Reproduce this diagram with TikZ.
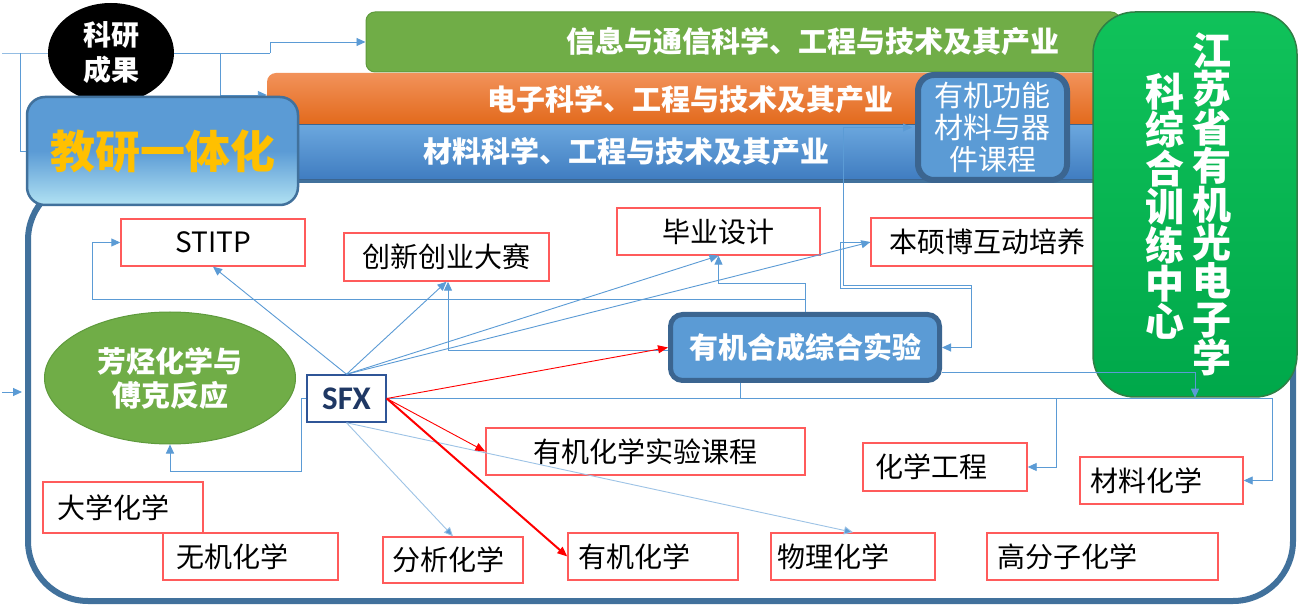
\documentclass[tikz,border=0pt]{standalone}
\usepackage{fontspec}
\newfontfamily\cjk{Noto Sans CJK SC}
\newfontfamily\calib{Carlito}
\usetikzlibrary{arrows.meta,shapes.geometric}
\definecolor{lnblue}{HTML}{5B9BD5}
\definecolor{lnlight}{HTML}{9DC3E6}
\definecolor{boxred}{HTML}{FF5B5B}
\definecolor{framec}{HTML}{41719C}
\definecolor{gbarc}{HTML}{70AD47}
\definecolor{gbard}{HTML}{5E9A3C}
\definecolor{obartop}{HTML}{F2925A}
\definecolor{obarbot}{HTML}{E2691B}
\definecolor{bbartop}{HTML}{6BA7DE}
\definecolor{bbarbot}{HTML}{3F7CC0}
\definecolor{boxblue}{HTML}{5B9BD5}
\definecolor{boxdark}{HTML}{3B6590}
\definecolor{goldc}{HTML}{FFC000}
\definecolor{gboxtop}{HTML}{10C25A}
\definecolor{gboxbot}{HTML}{00A84A}
\definecolor{gboxd}{HTML}{2F7F45}
\definecolor{navyc}{HTML}{1F3864}
\definecolor{sfxd}{HTML}{2F5597}
\begin{document}
\begin{tikzpicture}[x=1pt,y=-1pt,
  redbox/.style={draw=boxred,line width=1.4pt,fill=white,inner xsep=10pt,inner ysep=0pt,
    font=\cjk\fontsize{28}{30}\selectfont,align=left,text=black},
  cbox/.style={redbox,align=center},
  bartext/.style={font=\cjk\bfseries\fontsize{29}{32}\selectfont,text=white,inner sep=0pt},
  ln/.style={draw=lnblue,line width=0.9pt},
  lnl/.style={draw=lnlight,line width=0.9pt},
  conn/.style={ln,-{Triangle[length=9pt,width=8pt]}},
  connl/.style={lnl,-{Triangle[length=9pt,width=8pt,fill=lnblue]}},
  redarr/.style={draw=red,line width=0.9pt,-{Triangle[length=10pt,width=8pt]}},
]
\useasboundingbox (0,0) rectangle (1301,609);
\fill[white] (0,0) rectangle (1301,609);

% outer frame
\node[draw=framec,line width=6pt,rounded corners=60pt,minimum width=1265pt,minimum height=421pt] (outer) at (660.5,390.5) {};

% lines around 科研成果
\coordinate (l0) at (2,53);
\coordinate (l1) at (20,53);
\coordinate (l2) at (220,53);
\coordinate (l3) at (270,53);
\coordinate (l4) at (270,42);
\coordinate (l5) at (220,95);
\coordinate (l6) at (2,392);

% bars
\node[fill=gbarc,draw=gbard,line width=1pt,rounded corners=9pt,minimum width=754pt,minimum height=60pt] (gbar) at (743,42) {};
\node[top color=obartop,bottom color=obarbot,rounded corners=9pt,minimum width=853pt,minimum height=52pt,inner sep=0pt] (obar) at (693.5,99) {};
\node[top color=bbartop,bottom color=bbarbot,draw=boxdark,line width=1pt,minimum width=853pt,minimum height=55pt,inner sep=0pt] (bbar) at (693.5,152.5) {};
\node[bartext] (gbart) at (813,42) {信息与通信科学、工程与技术及其产业};
\node[bartext] (obart) at (690,100) {电子科学、工程与技术及其产业};
\node[bartext] (bbart) at (626.5,152) {材料科学、工程与技术及其产业};

\draw[ln] (l0) -- (l1) -- (l3);
\draw[ln,-{Triangle[length=9pt,width=8pt]}] (l3) -- (l4) -- (gbar.west);
\draw[conn] (l2) -- (l5) -- (l5 -| obar.west);
\draw[conn,shorten >=3pt] (l6) -- (l6 -| outer.west);

% 科研成果
\node[ellipse,fill=black,minimum width=126pt,minimum height=100pt,inner sep=0pt,
  font=\cjk\bfseries\fontsize{28}{35}\selectfont,text=white,align=center] (kycg) at (111,53) {科研\\成果};

% 教研一体化
\node[rounded corners=18pt,draw=framec,line width=2.5pt,top color=boxblue,bottom color=lnlight!80!cyan!60,
  middle color=boxblue,minimum width=271pt,minimum height=108pt,inner sep=0pt,
  font=\cjk\bfseries\fontsize{45}{50}\selectfont,text=goldc] (jyyth) at (162.5,151) {教研一体化};
\draw[ln] (l1) |- (jyyth.west);

% 有机功能材料与器件课程
\node[rounded corners=16pt,fill=boxblue,draw=boxdark,line width=6pt,minimum width=149pt,minimum height=105pt,inner sep=0pt,
  font=\cjk\fontsize{29}{32}\selectfont,text=white,align=center] (yjgn) at (992.5,127.5) {有机功能\\材料与器\\件课程};

% red boxes
\node[cbox,minimum height=47pt,text width=164pt] (stitp) at (213,242.5) {STITP};
\node[cbox,minimum height=48pt,text width=185pt] (cxcy) at (446.5,257) {创新创业大赛};
\node[cbox,minimum height=47pt,text width=183pt] (bysj) at (718.5,231.5) {毕业设计};
\node[redbox,minimum height=48pt,inner xsep=18pt,text width=199pt] (bsb) at (988.5,242) {本硕博互动培养};
\node[cbox,minimum height=47pt,text width=299pt] (yjsy) at (645.5,451.5) {有机化学实验课程};
\node[redbox,minimum height=48pt,inner xsep=12pt,text width=140pt] (hxgc) at (945,467) {化学工程};
\node[redbox,minimum height=47pt,text width=143pt] (clhx) at (1161.5,480.5) {材料化学};
\node[redbox,minimum height=51pt,inner xsep=14pt,text width=132pt] (dxhx) at (123,507.5) {大学化学};
\node[redbox,minimum height=47pt,inner xsep=13pt,text width=149pt] (wjhx) at (250.5,556.5) {无机化学};
\node[redbox,minimum height=46pt,inner xsep=9pt,text width=122pt] (fxhx) at (453,560) {分析化学};
\node[redbox,minimum height=47pt,text width=150pt] (yjhx) at (653,556.5) {有机化学};
\node[redbox,minimum height=47pt,inner xsep=6pt,text width=152pt] (wlhx) at (853,556.5) {物理化学};
\node[redbox,minimum height=47pt,text width=211pt] (gfz) at (1102.5,556.5) {高分子化学};

% green box (over the bars and 本硕博 box)
\node[rounded corners=42pt,top color=gboxtop,bottom color=gboxbot,draw=gboxd,line width=1.5pt,
  minimum width=204pt,minimum height=385pt] (gbox) at (1195,204.5) {};
\node[font=\cjk\bfseries\fontsize{39}{38.4}\selectfont,text=white,align=center,inner sep=0pt] (gcol1) at (1212,204.5)
  {江\\苏\\省\\有\\机\\光\\电\\子\\学};
\node[font=\cjk\bfseries\fontsize{39}{38.4}\selectfont,text=white,align=center,inner sep=0pt] (gcol2) at (1165,206.5)
  {科\\综\\合\\训\\练\\中\\心};

% 芳烃化学与傅克反应
\node[ellipse,fill=gbarc,draw=gbard,line width=1pt,minimum width=251pt,minimum height=132pt,inner sep=0pt,
  font=\cjk\bfseries\fontsize{29}{34}\selectfont,text=white,align=center] (fthx) at (170,378) {芳烃化学与\\傅克反应};

% SFX
\node[draw=sfxd,line width=1.5pt,fill=white,minimum width=79pt,minimum height=47pt,inner sep=0pt,
  font=\calib\bfseries\fontsize{33}{36}\selectfont,text=navyc] (sfx) at (346.5,398.5) {SFX};

% 有机合成综合实验
\node[rounded corners=12pt,fill=boxblue,draw=boxdark,line width=5pt,minimum width=269pt,minimum height=66pt,inner sep=0pt,
  font=\cjk\bfseries\fontsize{29}{32}\selectfont,text=white] (yhsy) at (805,347.5) {有机合成综合实验};

% connectors
\coordinate (p1) at (301,471);
\coordinate (p2) at (1272,398.5);
\coordinate (p3) at (1056,398.5);
\coordinate (p4) at (740,398.5);
\coordinate (p5) at (805,283);
\coordinate (p6) at (805,299);
\coordinate (p7) at (92,299);
\coordinate (p8) at (448,350);
\coordinate (p9) at (843,127.5);
\coordinate (p10) at (843,285);
\coordinate (p11) at (971,285);
\coordinate (p12) at (840,288);
\coordinate (p13) at (971,288);
\coordinate (p14) at (1195,372);

\draw[conn] (sfx.north) -- (stitp.south);
\draw[conn] (sfx.north) -- (cxcy.south);
\draw[conn] (sfx.north) -- (bysj.south);
\draw[conn] (sfx.north) -- (bsb.west);
\draw[connl] (sfx.south) -- (fxhx.north);
\draw[connl] (sfx.south) -- (wlhx.north);
\draw[conn] (sfx.west) -| (p1) -| (fthx.south);
\draw[conn] (sfx.east) -- (p2) |- (clhx.east);
\draw[conn] (p3) |- (hxgc.east);
\draw[ln] (p4) -- (p4 |- yhsy.south);
\draw[conn] (yhsy.north) -- (p5) -| (bysj.south);
\draw[conn] (p6) -- (p7) |- (stitp.west);
\draw[conn] (p8 -| yhsy.west) -- (p8) -- (p8 |- cxcy.south);
\draw[ln,{Triangle[length=9pt,width=8pt]}-{Triangle[length=9pt,width=8pt]},shorten >=3pt] (yhsy.east) -| (p11) -- (p10) -- (p9) -- (yjgn.west);
\draw[ln] (p13) -- (p12) |- (bsb.west);
\draw[conn] (p14 -| yhsy.east) -- (p14) -- (gbox.south);
\draw[redarr] (sfx.east) -- (yhsy.west);
\draw[redarr] (sfx.east) -- (yjsy.west);
\draw[redarr,line width=2pt] (sfx.east) -- (yjhx.west);
\end{tikzpicture}
\end{document}
